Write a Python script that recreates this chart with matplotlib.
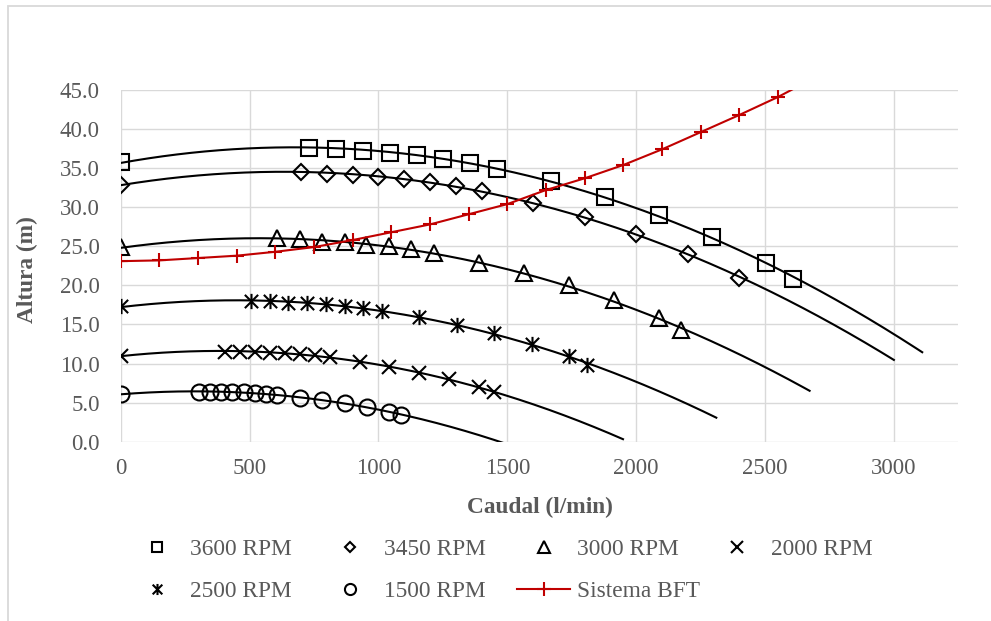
import numpy as np
import matplotlib
matplotlib.use('Agg')
import matplotlib.pyplot as plt
from matplotlib.path import Path
from matplotlib.lines import Line2D
from matplotlib.patches import Rectangle
from matplotlib.ticker import FormatStrFormatter

plt.rcParams['font.family'] = ['Liberation Serif', 'DejaVu Serif']

# ---------------- data ----------------
q_3600 = [0, 730, 835, 940, 1045, 1150, 1250, 1355, 1460, 1670, 1880, 2090, 2295, 2505, 2610]
h_3600 = [35.8, 37.6, 37.4, 37.2, 37.0, 36.7, 36.2, 35.7, 34.9, 33.3, 31.3, 29.0, 26.2, 22.9, 20.8]

q_3450 = [0, 700, 800, 900, 1000, 1100, 1200, 1300, 1400, 1600, 1800, 2000, 2200, 2400]
h_3450 = [32.9, 34.5, 34.3, 34.1, 33.9, 33.6, 33.2, 32.7, 32.1, 30.5, 28.7, 26.6, 24.0, 21.0]

q_3000 = [0, 608, 695, 783, 869, 953, 1041, 1128, 1216, 1389, 1564, 1738, 1913, 2088, 2173]
h_3000 = [24.9, 26.0, 25.9, 25.6, 25.5, 25.2, 25.0, 24.6, 24.1, 22.9, 21.6, 20.0, 18.1, 15.8, 14.3]

q_2000 = [0, 404, 462, 520, 578, 637, 695, 753, 811, 927, 1041, 1158, 1274, 1390, 1449]
h_2000 = [11.0, 11.5, 11.5, 11.5, 11.4, 11.4, 11.2, 11.1, 10.8, 10.2, 9.6, 8.8, 8.0, 7.0, 6.3]

q_2500 = [0, 505, 578, 649, 723, 795, 869, 940, 1013, 1158, 1303, 1449, 1594, 1740, 1811]
h_2500 = [17.3, 18.0, 18.0, 17.8, 17.7, 17.6, 17.4, 17.1, 16.7, 15.9, 14.9, 13.9, 12.5, 11.0, 9.8]

q_1500 = [0, 303, 345, 391, 433, 477, 520, 563, 608, 695, 781, 869, 956, 1041, 1087]
h_1500 = [6.1, 6.4, 6.4, 6.4, 6.3, 6.3, 6.2, 6.1, 6.0, 5.6, 5.3, 5.0, 4.5, 3.8, 3.4]

q_bft = [0, 150, 300, 450, 600, 750, 900, 1050, 1200, 1350, 1500, 1650, 1800, 1950,
         2100, 2250, 2400, 2550, 2700]
h_bft = [23.1, 23.2, 23.5, 23.8, 24.3, 24.9, 25.8, 26.8, 27.8, 29.1, 30.4, 32.2, 33.7, 35.4,
         37.4, 39.6, 41.8, 44.1, 46.7]

labels = ['3600 RPM', '3450 RPM', '3000 RPM', '2000 RPM', '2500 RPM', '1500 RPM', 'Sistema BFT']
x_ticks = [0, 500, 1000, 1500, 2000, 2500, 3000]
y_ticks = [0, 5, 10, 15, 20, 25, 30, 35, 40, 45]

# trendline forward forecast (l/min)
forward = {'3600 RPM': 500, '3450 RPM': 600, '3000 RPM': 500,
           '2000 RPM': 500, '2500 RPM': 500, '1500 RPM': 500}

# ---------------- styles ----------------
star = Path([(-1, -1), (1, 1), (-1, 1), (1, -1), (0, -1.15), (0, 1.15)],
            [Path.MOVETO, Path.LINETO, Path.MOVETO, Path.LINETO, Path.MOVETO, Path.LINETO])

pump_series = [
    ('3600 RPM', q_3600, h_3600, 's', 11.0, 7.5),
    ('3450 RPM', q_3450, h_3450, 'D', 8.3, 5.5),
    ('3000 RPM', q_3000, h_3000, '^', 12.0, 8.0),
    ('2000 RPM', q_2000, h_2000, 'x', 10.5, 8.0),
    ('2500 RPM', q_2500, h_2500, star, 11.0, 8.0),
    ('1500 RPM', q_1500, h_1500, 'o', 11.5, 8.0),
]

RED = '#C00000'
GREY_TXT = '#595959'
GRID = '#d9d9d9'

fig = plt.figure(figsize=(9.91, 6.21), dpi=100)
fig.patches.append(Rectangle((8 / 991, -0.2), 1.2, 1.2 - 6 / 621,
                             transform=fig.transFigure, fill=False,
                             edgecolor=GRID, linewidth=1.3, clip_on=False))

ax = fig.add_axes([120.7 / 991, 1 - 441.7 / 621, 837.6 / 991, 351.7 / 621])

handles = {}
for name, q, h, mk, ms, lms in pump_series:
    coeffs = np.polyfit(q, h, 2)
    xs = np.linspace(min(q), max(q) + forward[name], 400)
    ax.plot(xs, np.polyval(coeffs, xs), color='black', lw=1.5, zorder=3)
    ax.plot(q, h, ls='none', marker=mk, ms=ms, mfc='none', mec='black', mew=1.5, zorder=4)
    handles[name] = Line2D([], [], ls='none', marker=mk, ms=lms, mfc='none',
                           mec='black', mew=1.5)

ax.plot(q_bft, h_bft, color=RED, lw=1.5, marker='+', ms=9.5, mew=1.5, zorder=5)
handles['Sistema BFT'] = Line2D([], [], color=RED, lw=1.5, marker='+', ms=9.5, mew=1.5)

ax.set_xlim(0, 3250)
ax.set_ylim(0, 45)
ax.set_xticks(x_ticks)
ax.set_yticks(y_ticks)
ax.yaxis.set_major_formatter(FormatStrFormatter('%.1f'))
ax.grid(True, color=GRID, lw=1.0)
ax.set_axisbelow(True)
for s in ax.spines.values():
    s.set_visible(False)
ax.tick_params(axis='both', length=0, labelsize=16.5, labelcolor=GREY_TXT)
ax.tick_params(axis='x', pad=12)
ax.tick_params(axis='y', pad=15)

ax.set_xlabel('Caudal (l/min)', fontsize=16.8, fontweight='bold', color=GREY_TXT, va='center')
ax.xaxis.set_label_coords(0.5, (441.7 - 507) / 351.7)
ax.set_ylabel('Altura (m)', fontsize=16.8, fontweight='bold', color=GREY_TXT, va='center')
ax.yaxis.set_label_coords((27.5 - 120.7) / 837.6, (441.7 - 270) / 351.7)

leg_kw = dict(frameon=False, loc='center left', borderpad=0, borderaxespad=0,
              handlelength=2.27, handletextpad=0.3, columnspacing=1.36,
              fontsize=16.8, labelcolor=GREY_TXT)
row1 = labels[:4]
row2 = labels[4:]
fig.legend([handles[n] for n in row1], row1, ncol=4,
           bbox_to_anchor=(130.5 / 991, 1 - 549 / 621), **leg_kw)
fig.legend([handles[n] for n in row2], row2, ncol=3,
           bbox_to_anchor=(130.5 / 991, 1 - 591 / 621), **leg_kw)

fig.savefig('out.png', dpi=100)
